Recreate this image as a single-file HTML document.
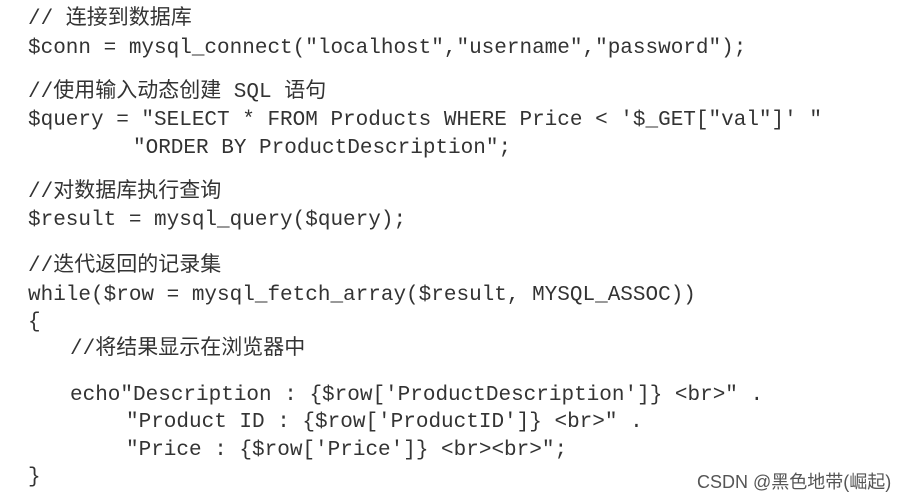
<!DOCTYPE html>
<html><head><meta charset="utf-8"><style>
body{margin:0;width:915px;height:501px;background:#fff;position:relative;overflow:hidden}
.l{position:absolute;height:28px;line-height:28px;white-space:pre;font-family:"Liberation Mono","Noto Sans CJK SC",monospace;font-size:21px;color:#333;letter-spacing:0}
.w{position:absolute;left:697px;top:468px;font-family:"Liberation Sans","Noto Sans CJK SC",sans-serif;font-size:18px;color:#555;white-space:pre}
</style></head><body>
<div class="l" style="left:28px;top:6px">// 连接到数据库</div>
<div class="l" style="left:28px;top:35px">$conn = mysql_connect("localhost","username","password");</div>
<div class="l" style="left:28px;top:79px">//使用输入动态创建 SQL 语句</div>
<div class="l" style="left:28px;top:107px">$query = "SELECT * FROM Products WHERE Price &lt; '$_GET["val"]' "</div>
<div class="l" style="left:133px;top:135px">"ORDER BY ProductDescription";</div>
<div class="l" style="left:28px;top:179px">//对数据库执行查询</div>
<div class="l" style="left:28px;top:207px">$result = mysql_query($query);</div>
<div class="l" style="left:28px;top:253px">//迭代返回的记录集</div>
<div class="l" style="left:28px;top:282px">while($row = mysql_fetch_array($result, MYSQL_ASSOC))</div>
<div class="l" style="left:28px;top:309px">{</div>
<div class="l" style="left:70px;top:336px">//将结果显示在浏览器中</div>
<div class="l" style="left:70px;top:382px">echo"Description : {$row['ProductDescription']} &lt;br&gt;" .</div>
<div class="l" style="left:126px;top:409px">"Product ID : {$row['ProductID']} &lt;br&gt;" .</div>
<div class="l" style="left:126px;top:437px">"Price : {$row['Price']} &lt;br&gt;&lt;br&gt;";</div>
<div class="l" style="left:28px;top:464px">}</div>
<div class="w">CSDN @黑色地带(崛起)</div>
</body></html>
